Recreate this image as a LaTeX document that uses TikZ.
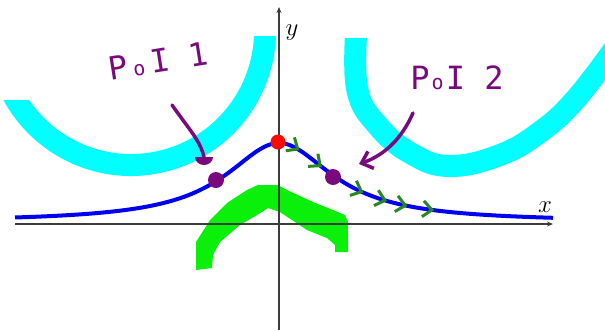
\documentclass[tikz,border=0pt]{standalone}
\usepackage{fontspec}
\newfontfamily\handfont{DejaVu Sans Mono}
\usetikzlibrary{arrows.meta,decorations.markings}

\begin{document}
\begin{tikzpicture}[x=1pt, y=-1pt,
    band/.style={line width=22pt, line cap=butt},
    axis/.style={draw=axisgray, line width=1.2pt, -{Stealth[length=6pt, width=5pt]}},
    curve/.style={draw=curveblue, line width=4pt},
    marker/.style={draw=poipurple, line width=3.5pt, line cap=round},
    dot/.style={circle, inner sep=0pt, minimum size=16pt},
    poi/.style={text=poipurple, font=\handfont\fontsize{32}{32}\selectfont, inner sep=0pt},
    axlabel/.style={font=\fontsize{24}{24}\selectfont, inner sep=0pt},
    chev/.tip={Straight Barb[length=9pt, width=16pt, line width=3pt, color=trailgreen]}]

    % Define custom colors
    \definecolor{bandcyan}{RGB}{0, 255, 255}
    \definecolor{hillgreen}{RGB}{10, 240, 10}
    \definecolor{trailgreen}{RGB}{40, 135, 35}
    \definecolor{curveblue}{RGB}{0, 0, 240}
    \definecolor{poipurple}{RGB}{120, 10, 125}
    \definecolor{peakred}{RGB}{250, 10, 0}
    \definecolor{axisgray}{RGB}{60, 60, 60}

    \useasboundingbox (0,0) rectangle (605,330);

    % 1. Cyan bands (clipped flat at their upper ends)
    \begin{scope}
        \clip (0,100) -- (131,100) -- (131,36) -- (300,36) -- (300,200) -- (0,200) -- cycle;
        \draw[band, bandcyan] (131,31) ++(165:134) arc[start angle=165, end angle=-10, radius=134];
    \end{scope}
    \begin{scope}
        \clip (330,38) rectangle (605,200);
        \draw[band, bandcyan] plot[smooth, tension=0.7] coordinates
            {(357,20) (357,88) (378,126) (412,154) (450,166) (500,155) (540,132) (575,100) (615,48)};
    \end{scope}

    % 2. Green hill below the axis
    \fill[hillgreen] (196,270) -- (196,242) -- (210,220) -- (227,203) -- (247,190) -- (258,185)
        -- (278,185) -- (287,190) -- (313,202) -- (333,210) -- (345,215) -- (348,222)
        -- (348,252) -- (335,252) -- (335,245) -- (327,238) -- (307,230) -- (280,212)
        -- (268,208) -- (262,212) -- (240,225) -- (220,242) -- (213,255) -- (212,268) -- cycle;

    % 3. Axes
    \draw[axis] (15,224) -- (553,224);
    \draw[axis] (279,330) -- (279,7);
    \node[axlabel] (xlab) at (545,207) {$x$};
    \node[axlabel] (ylab) at (292,33) {$y$};

    % 4. Blue curve
    \draw[curve] plot[domain=15:553, samples=150] (\x, {222-79/(1+((\x-279)/65)^2)});

    % 5. Green chevrons along the curve
    \path[decoration={markings,
            mark=at position 16pt with {\arrow{chev}},
            mark=at position 44pt with {\arrow{chev}},
            mark=at position 93pt with {\arrow{chev}},
            mark=at position 118pt with {\arrow{chev}},
            mark=at position 139pt with {\arrow{chev}},
            mark=at position 166pt with {\arrow{chev}}},
        decorate] plot[domain=285:445, samples=80] (\x, {222-79/(1+((\x-279)/65)^2)});

    % 6. Points on the curve
    \node[dot, fill=peakred, minimum size=15pt] (peak) at (278,142) {};
    \node[dot, fill=poipurple] (dotone) at (216,180) {};
    \node[dot, fill=poipurple] (dottwo) at (333,177) {};

    % 7. Labels and arrows
    \node[poi, rotate=9] (poione) at (158,61) {P\kern5pt{\fontsize{20}{20}\selectfont o}\kern6pt I 1};
    \node[poi] (poitwo) at (457,78) {P\kern2pt{\fontsize{20}{20}\selectfont o}\kern2pt I 2};

    \coordinate (tailone) at (172,105);
    \coordinate (tipone) at (204,157);
    \draw[marker] (tailone) .. controls (188,128) and (200,140) .. (tipone);
    \fill[poipurple] (tipone) ++(-9,0) arc[start angle=180, end angle=0, x radius=9, y radius=8] -- cycle;

    \coordinate (tailtwo) at (413,113);
    \coordinate (tiptwo) at (359,164);
    \draw[marker, -{Straight Barb[length=10pt, width=18pt]}] (tailtwo) .. controls (402,138) and (385,155) .. (tiptwo);

\end{tikzpicture}
\end{document}
